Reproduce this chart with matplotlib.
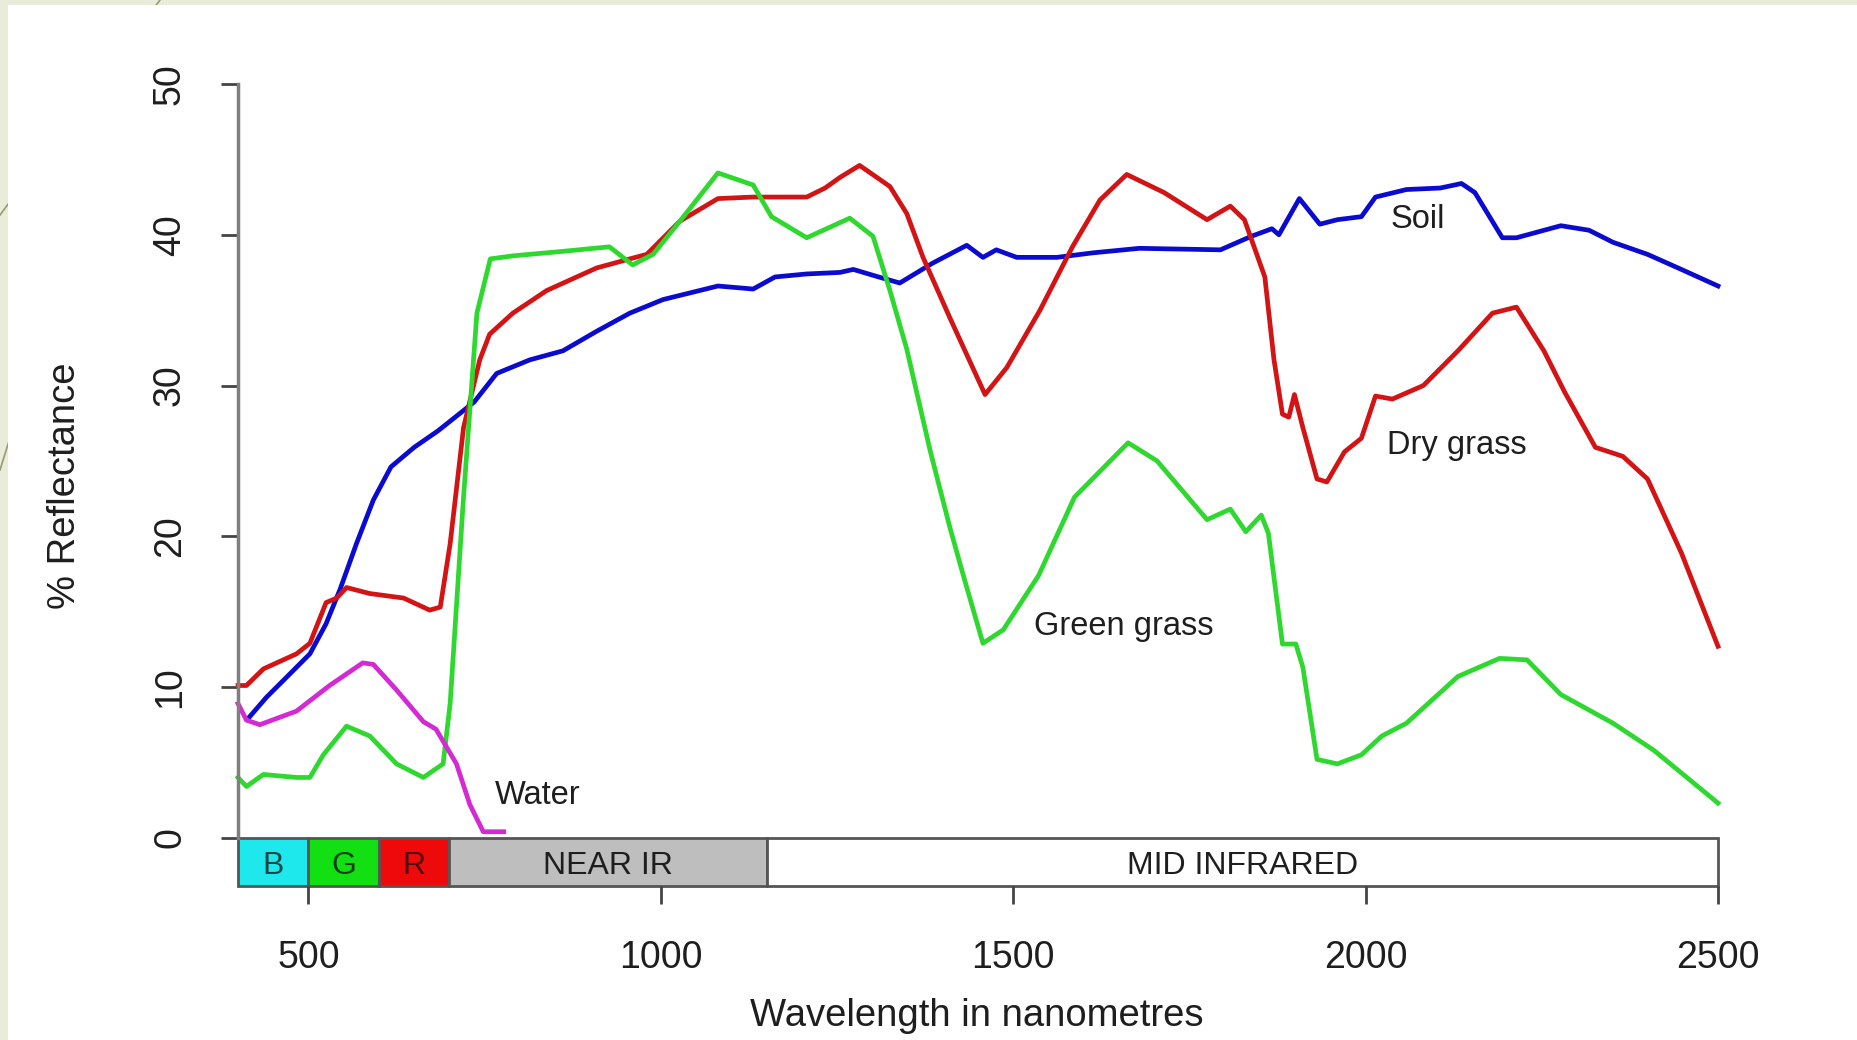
import matplotlib.pyplot as plt
from matplotlib.patches import Rectangle
from matplotlib.lines import Line2D

plt.rcParams['font.family'] = ['Liberation Sans', 'DejaVu Sans']

# 光譜反射率資料
soil_wl = [416, 440, 470, 502, 525, 545, 568, 592, 617, 650, 684, 735, 767, 814, 861, 909, 956,
           1003, 1055, 1081, 1131, 1162, 1207, 1254, 1273, 1309, 1339, 1385, 1434, 1457, 1476,
           1505, 1562, 1613, 1679, 1794, 1838, 1867, 1877, 1906, 1935, 1960, 1994, 2014, 2058,
           2106, 2136, 2155, 2194, 2214, 2277, 2317, 2351, 2400, 2448, 2500]
soil = [8.0, 9.3, 10.7, 12.2, 14.2, 16.5, 19.5, 22.4, 24.6, 25.9, 27.0, 28.9, 30.8, 31.7, 32.3,
        33.6, 34.8, 35.7, 36.3, 36.6, 36.4, 37.2, 37.4, 37.5, 37.7, 37.2, 36.8, 38.1, 39.3, 38.5,
        39.0, 38.5, 38.5, 38.8, 39.1, 39.0, 39.9, 40.4, 40.0, 42.4, 40.7, 41.0, 41.2, 42.5, 43.0,
        43.1, 43.4, 42.8, 39.8, 39.8, 40.6, 40.3, 39.5, 38.7, 37.7, 36.6]

dry_wl = [400, 412, 436, 483, 502, 525, 540, 554, 587, 635, 672, 687, 701, 720, 743, 757, 790, 838,
          909, 956, 980, 1027, 1081, 1131, 1207, 1233, 1254, 1282, 1325, 1349, 1372, 1410, 1460,
          1491, 1538, 1584, 1623, 1661, 1714, 1775, 1808, 1828, 1857, 1870, 1882, 1891, 1899,
          1911, 1931, 1945, 1970, 1994, 2014, 2038, 2082, 2131, 2180, 2214, 2253, 2282, 2326,
          2365, 2400, 2448, 2500]
dry = [10.1, 10.1, 11.2, 12.2, 12.9, 15.6, 15.9, 16.6, 16.2, 15.9, 15.1, 15.3, 19.5, 27.2, 31.7, 33.4,
       34.8, 36.3, 37.8, 38.4, 38.7, 40.9, 42.4, 42.5, 42.5, 43.1, 43.8, 44.6, 43.2, 41.4, 38.5,
       34.5, 29.4, 31.2, 35.0, 39.2, 42.3, 44.0, 42.8, 41.0, 41.9, 41.0, 37.2, 31.7, 28.1, 27.9,
       29.4, 27.2, 23.8, 23.6, 25.6, 26.5, 29.3, 29.1, 30.0, 32.3, 34.8, 35.2, 32.3, 29.6, 25.9,
       25.3, 23.8, 18.9, 12.7]

green_wl = [400, 412, 436, 483, 502, 521, 554, 587, 625, 663, 691, 701, 720, 739, 758, 790, 861, 927,
            960, 989, 1027, 1081, 1131, 1157, 1207, 1268, 1301, 1325, 1349, 1382, 1410, 1431, 1457,
            1486, 1536, 1587, 1663, 1704, 1775, 1808, 1830, 1852, 1862, 1882, 1901, 1911, 1931,
            1960, 1994, 2023, 2058, 2131, 2190, 2229, 2277, 2351, 2409, 2500]
green = [4.0, 3.4, 4.2, 4.0, 4.0, 5.5, 7.4, 6.75, 4.9, 4.0, 4.9, 8.9, 22.6, 34.8, 38.4, 38.6, 38.9,
         39.2, 38.0, 38.7, 40.9, 44.1, 43.3, 41.2, 39.8, 41.1, 39.9, 36.3, 32.4, 25.7, 20.6, 17.1,
         12.9, 13.8, 17.4, 22.6, 26.2, 25.0, 21.1, 21.8, 20.3, 21.4, 20.2, 12.85, 12.85, 11.3, 5.2,
         4.9, 5.5, 6.75, 7.6, 10.7, 11.9, 11.8, 9.5, 7.6, 5.8, 2.3]

water_wl = [400, 412, 431, 483, 530, 577, 592, 625, 663, 681, 710, 729, 748, 777]
water = [8.9, 7.8, 7.5, 8.4, 10.1, 11.6, 11.5, 9.8, 7.7, 7.2, 4.9, 2.2, 0.4, 0.4]

# 波段色條
band_names = ['B', 'G', 'R', 'NEAR IR', 'MID INFRARED']
band_edges = [400, 500, 600, 700, 1150, 2500]
band_colors = ['#1ee8ec', '#12e012', '#ee0a0a', '#bebebe', '#ffffff']
band_text_colors = ['#124848', '#0c400c', '#500a0a', '#1e1e1e', '#1e1e1e']

x_ticks = [500, 1000, 1500, 2000, 2500]
y_ticks = [0, 10, 20, 30, 40, 50]

# 曲線標籤 (x, y, 文字)
curve_labels = [(2036, 41.0, 'Soil'), (2031, 26.0, 'Dry grass'),
                (1529, 14.0, 'Green grass'), (765, 2.8, 'Water')]

W, H = 1857, 1040
fig = plt.figure(figsize=(W / 100, H / 100), dpi=100)
fig.patch.set_facecolor('#e9ecd8')

# 投影片背景裝飾線與白色底 (放在座標軸之後)
fig.add_artist(Line2D([0, 160 / W], [1 - 215 / H, 1], color='#9a9a70', lw=1.2, zorder=-3))
fig.add_artist(Line2D([0, 14 / W], [1 - 470 / H, 1 - 425 / H], color='#9a9a70', lw=1.2, zorder=-3))
fig.add_artist(Rectangle((8 / W, 0), 1, 1 - 5 / H, facecolor='white', edgecolor='none', zorder=-2))

bar_bottom = -3.2
ax = fig.add_axes([238 / W, (H - 886) / H, 1480 / W, (886 - 84) / H])
ax.set_facecolor('none')
ax.set_xlim(400, 2500)
ax.set_ylim(bar_bottom, 50)

lw = 3.4
ax.plot(soil_wl, soil, color='#0a0ad0', lw=lw, clip_on=False, solid_joinstyle='round')
ax.plot(dry_wl, dry, color='#d41414', lw=lw, clip_on=False, solid_joinstyle='round')
ax.plot(green_wl, green, color='#2ed82e', lw=lw, clip_on=False, solid_joinstyle='round')
ax.plot(water_wl, water, color='#d42ad4', lw=lw, clip_on=False, solid_joinstyle='round')

for x, y, t in curve_labels:
    ax.text(x, y, t, fontsize=23.5, color='#1e1e1e', ha='left', va='center')

# 波段色條
for i, name in enumerate(band_names):
    x0, x1 = band_edges[i], band_edges[i + 1]
    ax.add_patch(Rectangle((x0, bar_bottom), x1 - x0, -bar_bottom, facecolor=band_colors[i],
                           edgecolor='#555555', lw=2, clip_on=False))
    ax.text((x0 + x1) / 2, bar_bottom / 2 - 0.3, name, fontsize=23, color=band_text_colors[i],
            ha='center', va='center')

# 座標軸
for s in ['top', 'right', 'bottom']:
    ax.spines[s].set_visible(False)
ax.spines['left'].set_bounds(0, 50)
ax.spines['left'].set_color('#7f7f7f')
ax.spines['left'].set_linewidth(2.5)

ax.set_xticks(x_ticks)
ax.set_yticks(y_ticks)
ax.tick_params(axis='x', length=13, width=2, color='#444444', pad=26, labelsize=27,
               labelcolor='#1e1e1e')
ax.tick_params(axis='y', length=12, width=2, color='#444444', pad=24, labelsize=27,
               labelcolor='#1e1e1e', labelrotation=90)
for lbl in ax.get_yticklabels():
    lbl.set_va('center')

fig.text(977 / W, 1 - 1016 / H, 'Wavelength in nanometres', fontsize=27.5, color='#1e1e1e',
         ha='center', va='center')
fig.text(65 / W, 1 - 486 / H, '% Reflectance', fontsize=27.5, color='#1e1e1e',
         ha='center', va='center', rotation=90)

plt.savefig('out.png', dpi=100, facecolor=fig.get_facecolor())
